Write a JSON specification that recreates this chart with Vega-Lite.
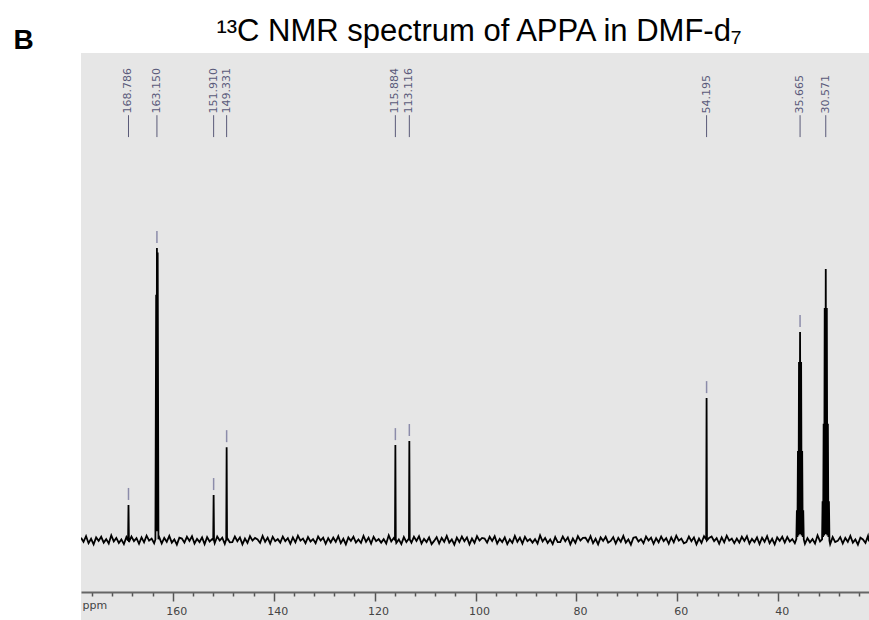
{
  "$schema": "https://vega.github.io/schema/vega-lite/v6.json",
  "autosize": "none",
  "padding": {"left": 81, "top": 53, "right": 0, "bottom": 0},
  "width": 788,
  "height": 567,
  "background": "white",
  "title": {"text": "¹³C NMR spectrum of APPA in DMF-d₇", "font": "Liberation Sans", "fontSize": 31, "fontWeight": "normal", "color": "black", "anchor": "middle", "baseline": "alphabetic", "offset": -46, "dx": 4},
  "datasets": {
    "spectrum": [
      {"p":178.2,"i":0.8},{"p":177.7,"i":-0.6},{"p":177.2,"i":1.3},{"p":176.7,"i":-1.1},{"p":176.2,"i":0.4},{"p":175.7,"i":-1.5},{"p":175.2,"i":0.9},{"p":174.7,"i":-0.3},{"p":174.2,"i":1.1},{"p":173.7,"i":-0.9},
      {"p":173.2,"i":0.3},{"p":172.7,"i":-1.2},{"p":172.2,"i":1.6},{"p":171.7,"i":-0.5},{"p":171.2,"i":0.7},{"p":170.7,"i":-1.0},{"p":170.2,"i":0.2},{"p":169.7,"i":-1.4},{"p":169.2,"i":1.0},{"p":168.7,"i":-0.7},
      {"p":168.866,"i":-0.2},{"p":168.786,"i":12.0},{"p":168.706,"i":0.3},
      {"p":168.2,"i":1.2},{"p":167.7,"i":-0.4},{"p":167.2,"i":0.6},{"p":166.7,"i":-1.3},{"p":166.2,"i":0.9},{"p":165.7,"i":-0.8},{"p":165.2,"i":1.5},{"p":164.7,"i":-0.2},{"p":164.2,"i":0.5},{"p":163.7,"i":-1.1},
      {"p":163.45,"i":0.2},{"p":163.3,"i":84},{"p":163.225,"i":3},{"p":163.15,"i":100},{"p":163.075,"i":3},{"p":163.0,"i":98.5},{"p":162.85,"i":0.3},
      {"p":162.7,"i":1.0},{"p":162.2,"i":-1.2},{"p":161.7,"i":0.7},{"p":161.2,"i":-0.6},{"p":160.7,"i":1.4},{"p":160.2,"i":-0.9},{"p":159.7,"i":0.2},{"p":159.2,"i":-1.6},{"p":158.7,"i":0.8},
      {"p":158.2,"i":0.5},{"p":157.7,"i":-0.9},{"p":157.2,"i":1.1},{"p":156.7,"i":-0.3},{"p":156.2,"i":1.3},{"p":155.7,"i":-1.2},{"p":155.2,"i":0.4},{"p":154.7,"i":-0.7},{"p":154.2,"i":0.9},{"p":153.7,"i":-1.4},
      {"p":153.2,"i":1.0},{"p":152.7,"i":-0.5},{"p":152.2,"i":0.3},
      {"p":151.99,"i":0.1},{"p":151.91,"i":15.4},{"p":151.83,"i":-0.2},
      {"p":151.7,"i":-1.1},{"p":151.2,"i":1.2},{"p":150.7,"i":-0.2},{"p":150.2,"i":0.8},{"p":149.7,"i":-1.3},
      {"p":149.411,"i":0.2},{"p":149.331,"i":31.8},{"p":149.251,"i":-0.1},
      {"p":149.2,"i":0.6},{"p":148.7,"i":-0.8},
      {"p":148.2,"i":-0.7},{"p":147.7,"i":1.2},{"p":147.2,"i":-0.4},{"p":146.7,"i":0.9},{"p":146.2,"i":-1.5},{"p":145.7,"i":0.5},{"p":145.2,"i":-1.0},{"p":144.7,"i":1.3},{"p":144.2,"i":-0.2},{"p":143.7,"i":0.7},
      {"p":143.2,"i":0.2},{"p":142.7,"i":-1.0},{"p":142.2,"i":1.4},{"p":141.7,"i":-0.6},{"p":141.2,"i":0.8},{"p":140.7,"i":-1.2},{"p":140.2,"i":1.1},{"p":139.7,"i":-0.4},{"p":139.2,"i":0.3},{"p":138.7,"i":-0.9},
      {"p":138.2,"i":1.2},{"p":137.7,"i":-0.4},{"p":137.2,"i":0.6},{"p":136.7,"i":-1.3},{"p":136.2,"i":0.9},{"p":135.7,"i":-0.8},{"p":135.2,"i":1.5},{"p":134.7,"i":-0.2},{"p":134.2,"i":0.5},{"p":133.7,"i":-1.1},
      {"p":133.2,"i":1.0},{"p":132.7,"i":-0.5},{"p":132.2,"i":0.3},{"p":131.7,"i":-1.1},{"p":131.2,"i":1.2},{"p":130.7,"i":-0.2},{"p":130.2,"i":0.8},{"p":129.7,"i":-1.3},{"p":129.2,"i":0.6},{"p":128.7,"i":-0.8},
      {"p":128.2,"i":0.8},{"p":127.7,"i":-0.6},{"p":127.2,"i":1.3},{"p":126.7,"i":-1.1},{"p":126.2,"i":0.4},{"p":125.7,"i":-1.5},{"p":125.2,"i":0.9},{"p":124.7,"i":-0.3},{"p":124.2,"i":1.1},{"p":123.7,"i":-0.9},
      {"p":123.2,"i":0.2},{"p":122.7,"i":-1.0},{"p":122.2,"i":1.4},{"p":121.7,"i":-0.6},{"p":121.2,"i":0.8},{"p":120.7,"i":-1.2},{"p":120.2,"i":1.1},{"p":119.7,"i":-0.4},{"p":119.2,"i":0.3},{"p":118.7,"i":-0.9},
      {"p":118.2,"i":0.3},{"p":117.7,"i":-1.2},{"p":117.2,"i":1.6},{"p":116.7,"i":-0.5},{"p":116.2,"i":0.7},
      {"p":115.964,"i":0.1},{"p":115.884,"i":32.5},{"p":115.804,"i":0.2},
      {"p":115.7,"i":-1.0},{"p":115.2,"i":0.2},{"p":114.7,"i":-1.4},{"p":114.2,"i":1.0},{"p":113.7,"i":-0.7},
      {"p":113.2,"i":0.5},{"p":113.196,"i":-0.1},{"p":113.116,"i":33.9},{"p":113.036,"i":0.2},
      {"p":112.7,"i":-0.9},{"p":112.2,"i":1.1},{"p":111.7,"i":-0.3},{"p":111.2,"i":1.3},{"p":110.7,"i":-1.2},{"p":110.2,"i":0.4},{"p":109.7,"i":-0.7},{"p":109.2,"i":0.9},{"p":108.7,"i":-1.4},
      {"p":108.2,"i":-0.3},{"p":107.7,"i":1.0},{"p":107.2,"i":-1.2},{"p":106.7,"i":0.7},{"p":106.2,"i":-0.6},{"p":105.7,"i":1.4},{"p":105.2,"i":-0.9},{"p":104.7,"i":0.2},{"p":104.2,"i":-1.6},{"p":103.7,"i":0.8},
      {"p":103.2,"i":-0.7},{"p":102.7,"i":1.2},{"p":102.2,"i":-0.4},{"p":101.7,"i":0.9},{"p":101.2,"i":-1.5},{"p":100.7,"i":0.5},{"p":100.2,"i":-1.0},{"p":99.7,"i":1.3},{"p":99.2,"i":-0.2},{"p":98.7,"i":0.7},
      {"p":98.2,"i":0.5},{"p":97.7,"i":-0.9},{"p":97.2,"i":1.1},{"p":96.7,"i":-0.3},{"p":96.2,"i":1.3},{"p":95.7,"i":-1.2},{"p":95.2,"i":0.4},{"p":94.7,"i":-0.7},{"p":94.2,"i":0.9},{"p":93.7,"i":-1.4},
      {"p":93.2,"i":0.2},{"p":92.7,"i":-1.0},{"p":92.2,"i":1.4},{"p":91.7,"i":-0.6},{"p":91.2,"i":0.8},{"p":90.7,"i":-1.2},{"p":90.2,"i":1.1},{"p":89.7,"i":-0.4},{"p":89.2,"i":0.3},{"p":88.7,"i":-0.9},
      {"p":88.2,"i":0.3},{"p":87.7,"i":-1.2},{"p":87.2,"i":1.6},{"p":86.7,"i":-0.5},{"p":86.2,"i":0.7},{"p":85.7,"i":-1.0},{"p":85.2,"i":0.2},{"p":84.7,"i":-1.4},{"p":84.2,"i":1.0},{"p":83.7,"i":-0.7},
      {"p":83.2,"i":-0.7},{"p":82.7,"i":1.2},{"p":82.2,"i":-0.4},{"p":81.7,"i":0.9},{"p":81.2,"i":-1.5},{"p":80.7,"i":0.5},{"p":80.2,"i":-1.0},{"p":79.7,"i":1.3},{"p":79.2,"i":-0.2},{"p":78.7,"i":0.7},
      {"p":78.2,"i":0.8},{"p":77.7,"i":-0.6},{"p":77.2,"i":1.3},{"p":76.7,"i":-1.1},{"p":76.2,"i":0.4},{"p":75.7,"i":-1.5},{"p":75.2,"i":0.9},{"p":74.7,"i":-0.3},{"p":74.2,"i":1.1},{"p":73.7,"i":-0.9},
      {"p":73.2,"i":-0.3},{"p":72.7,"i":1.0},{"p":72.2,"i":-1.2},{"p":71.7,"i":0.7},{"p":71.2,"i":-0.6},{"p":70.7,"i":1.4},{"p":70.2,"i":-0.9},{"p":69.7,"i":0.2},{"p":69.2,"i":-1.6},{"p":68.7,"i":0.8},
      {"p":68.2,"i":1.0},{"p":67.7,"i":-0.5},{"p":67.2,"i":0.3},{"p":66.7,"i":-1.1},{"p":66.2,"i":1.2},{"p":65.7,"i":-0.2},{"p":65.2,"i":0.8},{"p":64.7,"i":-1.3},{"p":64.2,"i":0.6},{"p":63.7,"i":-0.8},
      {"p":63.2,"i":1.2},{"p":62.7,"i":-0.4},{"p":62.2,"i":0.6},{"p":61.7,"i":-1.3},{"p":61.2,"i":0.9},{"p":60.7,"i":-0.8},{"p":60.2,"i":1.5},{"p":59.7,"i":-0.2},{"p":59.2,"i":0.5},{"p":58.7,"i":-1.1},
      {"p":58.2,"i":-0.7},{"p":57.7,"i":1.2},{"p":57.2,"i":-0.4},{"p":56.7,"i":0.9},{"p":56.2,"i":-1.5},{"p":55.7,"i":0.5},{"p":55.2,"i":-1.0},{"p":54.7,"i":1.3},
      {"p":54.275,"i":0.2},{"p":54.195,"i":48.6},{"p":54.115,"i":-0.1},
      {"p":53.7,"i":0.7},
      {"p":53.2,"i":1.2},{"p":52.7,"i":-0.4},{"p":52.2,"i":0.6},{"p":51.7,"i":-1.3},{"p":51.2,"i":0.9},{"p":50.7,"i":-0.8},{"p":50.2,"i":1.5},{"p":49.7,"i":-0.2},{"p":49.2,"i":0.5},{"p":48.7,"i":-1.1},
      {"p":48.2,"i":0.5},{"p":47.7,"i":-0.9},{"p":47.2,"i":1.1},{"p":46.7,"i":-0.3},{"p":46.2,"i":1.3},{"p":45.7,"i":-1.2},{"p":45.2,"i":0.4},{"p":44.7,"i":-0.7},{"p":44.2,"i":0.9},{"p":43.7,"i":-1.4},
      {"p":43.2,"i":0.8},{"p":42.7,"i":-0.6},{"p":42.2,"i":1.3},{"p":41.7,"i":-1.1},{"p":41.2,"i":0.4},{"p":40.7,"i":-1.5},{"p":40.2,"i":0.9},{"p":39.7,"i":-0.3},{"p":39.2,"i":1.1},{"p":38.7,"i":-0.9},
      {"p":38.2,"i":1.0},{"p":37.7,"i":-0.5},{"p":37.2,"i":0.3},{"p":36.7,"i":-1.1},
      {"p":36.4,"i":0.3},{"p":36.295,"i":10.2},{"p":36.19,"i":1},{"p":36.085,"i":30.5},{"p":35.98,"i":1.5},{"p":35.875,"i":61},{"p":35.77,"i":2},{"p":35.665,"i":71.2},{"p":35.56,"i":2},{"p":35.455,"i":61},{"p":35.35,"i":1.5},{"p":35.245,"i":30.5},{"p":35.14,"i":1},{"p":35.035,"i":10.2},{"p":34.93,"i":0.2},
      {"p":34.7,"i":-1.3},{"p":34.2,"i":0.6},{"p":33.7,"i":-0.8},
      {"p":33.2,"i":0.3},{"p":32.7,"i":-1.2},{"p":32.2,"i":1.6},{"p":31.7,"i":-0.5},
      {"p":31.3,"i":0.2},{"p":31.201,"i":13.3},{"p":31.096,"i":1},{"p":30.991,"i":39.8},{"p":30.886,"i":1.5},{"p":30.781,"i":79.5},{"p":30.676,"i":2},{"p":30.571,"i":92.8},{"p":30.466,"i":2},{"p":30.361,"i":79.5},{"p":30.256,"i":1.5},{"p":30.151,"i":39.8},{"p":30.046,"i":1},{"p":29.941,"i":13.3},{"p":29.84,"i":-0.2},
      {"p":29.7,"i":-1.4},{"p":29.2,"i":1.0},{"p":28.7,"i":-0.7},
      {"p":28.2,"i":-0.3},{"p":27.7,"i":1.0},{"p":27.2,"i":-1.2},{"p":26.7,"i":0.7},{"p":26.2,"i":-0.6},{"p":25.7,"i":1.4},{"p":25.2,"i":-0.9},{"p":24.7,"i":0.2},{"p":24.2,"i":-1.6},{"p":23.7,"i":0.8},
      {"p":23.2,"i":0.2},{"p":22.7,"i":-1.0},{"p":22.2,"i":1.4},{"p":22.0,"i":-0.5}
    ],
    "peaks": [
      {"p":168.786,"i":12.0,"label":"168.786"},
      {"p":163.15,"i":100,"label":"163.150"},
      {"p":151.91,"i":15.4,"label":"151.910"},
      {"p":149.331,"i":31.8,"label":"149.331"},
      {"p":115.884,"i":32.5,"label":"115.884"},
      {"p":113.116,"i":33.9,"label":"113.116"},
      {"p":54.195,"i":48.6,"label":"54.195"},
      {"p":35.665,"i":71.2,"label":"35.665"},
      {"p":30.571,"i":92.8,"label":"30.571"}
    ]
  },
  "encoding": {
    "x": {
      "field": "p", "type": "quantitative", "title": "ppm",
      "scale": {"domain": [22.0, 178.2], "reverse": true, "nice": false, "zero": false},
      "axis": {
        "values": [176,172,168,164,160,156,152,148,144,140,136,132,128,124,120,116,112,108,104,100,96,92,88,84,80,76,72,68,64,60,56,52,48,44,40,36,32,28,24],
        "labelExpr": "datum.value % 20 === 0 ? datum.label : ''",
        "tickSize": {"condition": {"test": "datum.value % 20 === 0", "value": 9}, "value": 4},
        "offset": -28, "grid": false,
        "domainColor": "#666666", "domainWidth": 2,
        "tickColor": "#555555", "tickWidth": 1.5,
        "labelFont": "DejaVu Sans", "labelFontSize": 11, "labelColor": "#444444",
        "labelOffset": 3.5, "labelPadding": 4, "labelFlush": false, "labelOverlap": false,
        "titleFont": "DejaVu Sans", "titleFontSize": 11, "titleFontWeight": "normal", "titleColor": "#444444",
        "titleAnchor": "start", "titleAlign": "left", "titleX": 1, "titleY": 16, "titleBaseline": "alphabetic"
      }
    }
  },
  "layer": [
    {
      "data": {"name": "spectrum"},
      "mark": {"type": "line", "color": "black", "strokeWidth": 1.8, "clip": true},
      "encoding": {
        "y": {
          "field": "i", "type": "quantitative", "title": "B",
          "scale": {"domain": [-27.4, 166.8], "nice": false, "zero": false},
          "axis": {"orient": "left", "domain": false, "ticks": false, "labels": false, "grid": false,
            "titleAngle": 0, "titleFont": "Liberation Sans", "titleFontSize": 28, "titleFontWeight": "bold", "titleColor": "black",
            "titleAlign": "left", "titleBaseline": "top", "titleX": -68, "titleY": -27}
        }
      }
    },
    {
      "data": {"name": "peaks"},
      "transform": [{"filter": "datum.p > 31"}],
      "mark": {"type": "rule", "color": "#8c8caa", "strokeWidth": 1.5, "yOffset": -5, "y2Offset": -17},
      "encoding": {
        "y": {"field": "i", "type": "quantitative", "title": "B"},
        "y2": {"field": "i"}
      }
    },
    {
      "data": {"name": "peaks"},
      "mark": {"type": "rule", "color": "#5a5a78", "strokeWidth": 1},
      "encoding": {
        "y": {"datum": 138.0, "type": "quantitative", "title": "B"},
        "y2": {"datum": 145.5}
      }
    },
    {
      "data": {"name": "peaks"},
      "mark": {"type": "text", "angle": 270, "align": "left", "baseline": "middle", "font": "DejaVu Sans", "fontSize": 11, "color": "#5a5a7a"},
      "encoding": {
        "y": {"datum": 146.1, "type": "quantitative", "title": "B"},
        "text": {"field": "label"}
      }
    },
    {
      "data": {"values": [{"t": "ppm"}]},
      "mark": {"type": "text", "angle": 270, "align": "left", "baseline": "middle", "font": "DejaVu Sans", "fontSize": 8.5, "color": "#5a5a7a"},
      "encoding": {
        "x": {"datum": 176.8, "type": "quantitative", "title": "ppm"},
        "y": {"datum": 150.7, "type": "quantitative", "title": "B"},
        "text": {"field": "t"}
      }
    }
  ],
  "config": {
    "view": {"fill": "#e6e6e6", "stroke": null}
  }
}
